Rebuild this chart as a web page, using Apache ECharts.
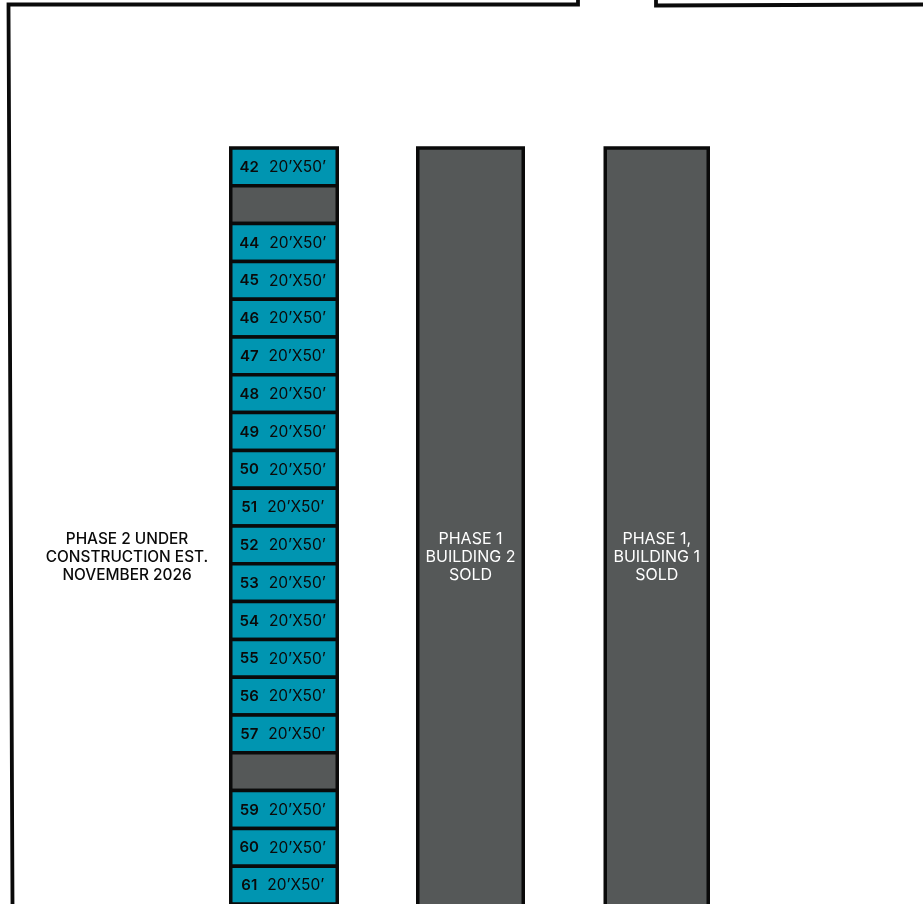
<!DOCTYPE html>
<html><head><meta charset="utf-8">
<style>html,body{margin:0;padding:0;background:#fff}#c{width:923px;height:904px}</style>
<script src="https://cdn.jsdelivr.net/npm/echarts@6/dist/echarts.min.js"></script>
</head><body><div id="c"></div>
<script>
const unitNumbers = [42,null,44,45,46,47,48,49,50,51,52,53,54,55,56,57,null,59,60,61];
const unitSize = "20’X50’";
const unitColumn = [229, 339];
const building2 = [416, 525, "PHASE 1\nBUILDING 2\nSOLD"];
const building1 = [603.5, 710, "PHASE 1,\nBUILDING 1\nSOLD"];
const phaseNote = [127, 10.82, "PHASE 2 UNDER\nCONSTRUCTION EST.\nNOVEMBER 2026"];
const boundaryLeft = [[578,0],[578,4.5],[8.5,4.5],[12.5,904]];
const boundaryRight = [[656,0],[656,5.5],[923,4.5]];
const TEAL = "#0095b1", GREY = "#555858", INK = "#0a0a0a";
const FONT = "Inter, 'Noto Sans', sans-serif";
const STROKE = 3.5;
const chart = echarts.init(document.getElementById('c'), null, {renderer:'canvas'});

const unitData = unitNumbers.map((n,i)=>[unitColumn[0],i,unitColumn[1],i+1,n]);
const buildingData = [building2, building1].map(b=>[b[0],0,b[1],20,b[2]]);

const toGrid = ([x,y]) => [x, (y-148)/37.8];

chart.setOption({
  animation:false,
  grid:{left:0,right:0,top:0,bottom:0},
  xAxis:{type:'value',min:0,max:923,show:false},
  yAxis:{type:'value',min:-148/37.8,max:20,inverse:true,show:false},
  series:[
    {type:'line',data:boundaryLeft.map(toGrid),symbol:'none',silent:true,
      lineStyle:{color:INK,width:3.8,join:'miter'}},
    {type:'line',data:boundaryRight.map(toGrid),symbol:'none',silent:true,
      lineStyle:{color:INK,width:3.8,join:'miter'}},
    {type:'custom',data:unitData,clip:true,silent:true,
      renderItem:(p,api)=>{
        const a=api.coord([api.value(0),api.value(1)]), b=api.coord([api.value(2),api.value(3)]);
        const n=unitNumbers[p.dataIndex];
        return {type:'rect',
          shape:{x:a[0]+STROKE/2,y:a[1],width:b[0]-a[0]-STROKE,height:b[1]-a[1]},
          style:{fill:n==null?GREY:TEAL,stroke:INK,lineWidth:STROKE},
          textContent:n==null?undefined:{type:'text',style:{
            rich:{n:{fontFamily:FONT,fontWeight:600,fontSize:15,fill:INK},
                  s:{fontFamily:FONT,fontWeight:400,fontSize:15.5,fill:INK}},
            text:`{n|${n}}   {s|${unitSize}}`}},
          textConfig:{position:'inside',offset:[-1.2,0.6]}};
      }},
    {type:'custom',data:buildingData,clip:true,silent:true,
      renderItem:(p,api)=>{
        const a=api.coord([api.value(0),api.value(1)]), b=api.coord([api.value(2),api.value(3)]);
        const t=buildingData[p.dataIndex][4];
        return {type:'group',children:[
          {type:'rect',shape:{x:a[0]+STROKE/2,y:a[1],width:b[0]-a[0]-STROKE,height:b[1]-a[1]+4},
            style:{fill:GREY,stroke:INK,lineWidth:STROKE}},
          {type:'text',x:(a[0]+b[0])/2,y:api.coord([0,phaseNote[1]])[1],
            style:{text:t,fill:'#fff',font:'400 16px '+FONT,lineHeight:18,align:'center',verticalAlign:'middle'}}
        ]};
      }},
    {type:'custom',data:[[phaseNote[0],phaseNote[1]]],silent:true,
      renderItem:(p,api)=>{
        const c=api.coord([api.value(0),api.value(1)]);
        return {type:'text',x:c[0],y:c[1],
          style:{text:phaseNote[2],fill:INK,font:'500 15.4px '+FONT,lineHeight:18,align:'center',verticalAlign:'middle'}};
      }}
  ]
});
</script></body></html>
